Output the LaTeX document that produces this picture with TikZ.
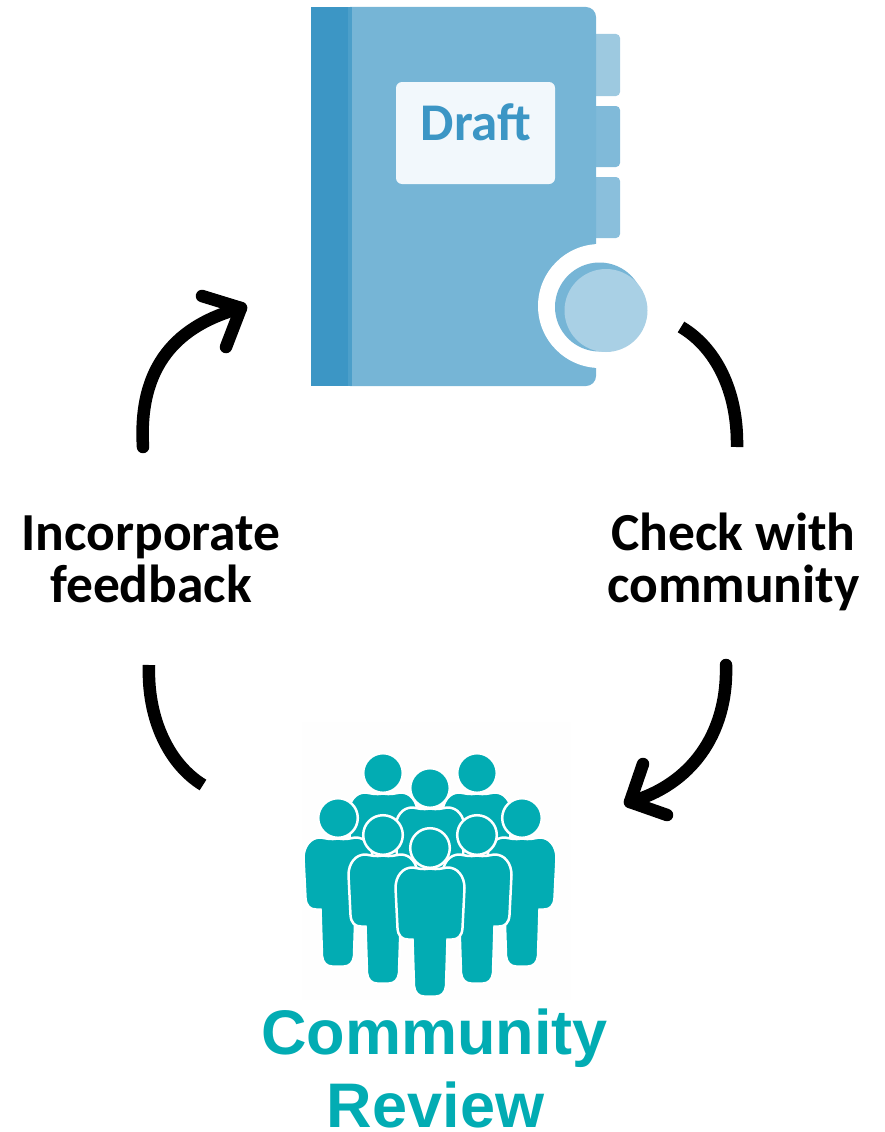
\documentclass[tikz,border=0pt]{standalone}
\usepackage{fontspec}
\setmainfont{Carlito}
\newfontfamily\reviewfont{Liberation Sans}
\definecolor{spine}{HTML}{3C96C5}
\definecolor{band}{HTML}{4C9FCA}
\definecolor{cover}{HTML}{76B5D6}
\definecolor{tabA}{HTML}{9DC9E0}
\definecolor{tabB}{HTML}{80BAD9}
\definecolor{tabC}{HTML}{8ABFDC}
\definecolor{disc}{HTML}{A9D0E5}
\definecolor{plate}{HTML}{F2F8FC}
\definecolor{teal}{HTML}{02ACB3}
\tikzset{
  flow/.style={line width=12.5pt,line cap=round,line join=round,black},
  steptext/.style={font=\fontsize{53.5}{52}\selectfont\bfseries,align=center,inner sep=0pt,text=black},
  reviewtext/.style={font=\fontsize{63}{73}\selectfont\reviewfont\bfseries,text=teal,inner sep=0pt,anchor=base},
  persona/.style={fill=teal,draw=white,line width=2.5pt},
  tabshape/.style={rounded corners=4pt},
}
\newcommand{\personfig}[2]{%
  \begin{scope}[shift={(#1,#2)}]
    \path[persona] (0,20.5) .. controls (-7,22) and (-14,20) .. (-17,19.5)
      .. controls (-28,19) and (-34.5,29) .. (-34.5,40)
      -- (-32.5,80) .. controls (-32,88) and (-28,91.5) .. (-22,91.5)
      -- (-17.5,91.5) -- (-16,138) .. controls (-15.5,145) and (-11,148.5) .. (-6,148.5)
      -- (6,148.5) .. controls (11,148.5) and (15.5,145) .. (16,138)
      -- (17.5,91.5) -- (22,91.5) .. controls (28,91.5) and (32,88) .. (32.5,80)
      -- (34.5,40) .. controls (34.5,29) and (28,19) .. (17,19.5)
      .. controls (14,20) and (7,22) .. (0,20.5) -- cycle;
    \path[persona] (0,0) circle[radius=19.8pt];
  \end{scope}}
\begin{document}
\begin{tikzpicture}[x=1pt,y=-1pt]
\useasboundingbox (0,0) rectangle (884,1132);
% notebook
\fill[tabA,tabshape] (590,34) rectangle (620,96);
\fill[tabB,tabshape] (590,106) rectangle (620,167);
\fill[tabC,tabshape] (590,177) rectangle (620,238);
\fill[cover,rounded corners=10pt] (340,7) rectangle (596,386);
\fill[band] (311,7) rectangle (352,386);
\fill[spine] (311,7) rectangle (348,386);
\fill[white] (600,306) circle[radius=62pt];
\fill[cover] (599.5,307) circle[radius=44.5pt];
\fill[disc] (606,310.5) circle[radius=41.5pt];
\node[fill=plate,rounded corners=6pt,minimum width=159pt,minimum height=102pt,inner sep=0pt] (plate) at (475.5,133) {};
\node[font=\fontsize{53}{53}\selectfont\bfseries,text=spine,inner sep=0pt] (draft) at (476,122) {Draft};
% community icon
\fill[white!99!gray] (302,722) rectangle (571,1000);
\personfig{383}{773}
\personfig{477}{773}
\personfig{430}{788}
\personfig{338}{818}
\personfig{522}{818}
\personfig{383}{835}
\personfig{477}{835}
\personfig{430}{848}
\node[reviewtext] (reviewa) at (434.5,1054) {Community};
\node[reviewtext] (reviewb) at (435.5,1127) {Review};
% step labels
\node[steptext] (incorporate) at (151,559) {Incorporate\\feedback};
\node[steptext] (check) at (733.5,561.5) {Check with\\community};
% connectors
\coordinate (a1) at (143,447);
\coordinate (a2) at (241,308);
\coordinate (a3) at (202,296);
\coordinate (a4) at (226,347);
\coordinate (b1) at (681,327);
\coordinate (b2) at (737,447);
\coordinate (c1) at (726,665);
\coordinate (c2) at (630,802);
\coordinate (c3) at (667,815);
\coordinate (c4) at (643,764);
\coordinate (d1) at (149,665);
\coordinate (d2) at (203,785);
\draw[flow] (a1) .. controls (138,365) and (178,325) .. (a2);
\draw[flow] (a3) -- (a2) -- (a4);
\draw[flow,line cap=butt] (b1) .. controls (715,347) and (738,390) .. (b2);
\draw[flow] (c1) .. controls (728,735) and (690,785) .. (c2);
\draw[flow] (c3) -- (c2) -- (c4);
\draw[flow,line cap=butt] (d1) .. controls (147,720) and (170,765) .. (d2);
\end{tikzpicture}
\end{document}
